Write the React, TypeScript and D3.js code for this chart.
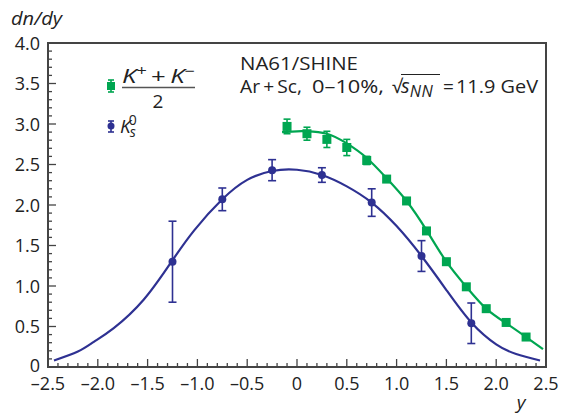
import React from "react";
import * as d3 from "d3";

// K0s measured points
const k0X = [-1.25, -0.75, -0.25, 0.25, 0.75, 1.25, 1.75];
const k0Y = [1.30, 2.07, 2.43, 2.37, 2.03, 1.37, 0.54];
const k0Err = [0.50, 0.14, 0.13, 0.09, 0.17, 0.19, 0.25];

// (K+ + K-)/2 measured points
const kcX = [-0.1, 0.1, 0.3, 0.5, 0.7, 0.9, 1.1, 1.3, 1.5, 1.7, 1.9, 2.1, 2.3];
const kcY = [2.97, 2.88, 2.81, 2.71, 2.55, 2.32, 2.05, 1.68, 1.30, 0.99, 0.72, 0.55, 0.37];
const kcErr = [0.09, 0.08, 0.10, 0.10, 0.05, 0.03, 0.03, 0.02, 0.02, 0.02, 0.02, 0.02, 0.02];

// fit curves
const k0FitX = [-2.44, -2.2, -2.04, -1.84, -1.54, -1.26, -1.03, -0.75, -0.5, -0.25, 0.0, 0.25, 0.5, 0.75, 1.0, 1.25, 1.5, 1.75, 2.0, 2.2, 2.44];
const k0FitY = [0.08, 0.19, 0.31, 0.48, 0.83, 1.30, 1.69, 2.07, 2.31, 2.42, 2.435, 2.37, 2.23, 2.03, 1.74, 1.37, 0.95, 0.55, 0.28, 0.16, 0.08];
const kcFitX = [-0.15, 0.0, 0.1, 0.3, 0.5, 0.7, 0.9, 1.1, 1.3, 1.5, 1.7, 1.9, 2.1, 2.3, 2.47];
const kcFitY = [2.90, 2.91, 2.91, 2.88, 2.76, 2.58, 2.33, 2.05, 1.69, 1.30, 0.99, 0.72, 0.54, 0.37, 0.22];

const xTicks = [-2.5, -2.0, -1.5, -1.0, -0.5, 0, 0.5, 1.0, 1.5, 2.0, 2.5];
const yTicks = [0, 0.5, 1.0, 1.5, 2.0, 2.5, 3.0, 3.5, 4.0];

const BLUE = "#2e3192";
const GREEN = "#00a651";
const AXIS = "#444";
const TXT = "#222";
const FONT = "'Open Sans', 'Noto Sans', sans-serif";

const fmtX = (v: number) => (v === 0 ? "0" : (v < 0 ? "–" : "") + Math.abs(v).toFixed(1));
const fmtY = (v: number) => (v === 0 ? "0" : v.toFixed(1));

export default function App() {
  const L = 48, R = 546, T = 43, B = 367;
  const x = d3.scaleLinear().domain([-2.5, 2.5]).range([L, R]);
  const y = d3.scaleLinear().domain([0, 4]).range([B, T]);

  const line = d3
    .line<[number, number]>()
    .x((d) => x(d[0]))
    .y((d) => y(d[1]))
    .curve(d3.curveNatural);

  const k0Fit = line(k0FitX.map((v, i) => [v, k0FitY[i]] as [number, number])) || "";
  const kcFit = line(kcFitX.map((v, i) => [v, kcFitY[i]] as [number, number])) || "";

  const minorX = d3.range(-25, 26).map((i) => i / 10);
  const minorY = d3.range(0, 41).map((i) => i / 10);

  return (
    <svg width={563} height={418} style={{ position: "absolute", left: 0, top: 0, background: "#fff" }} fontFamily={FONT}>
      <rect x={0} y={0} width={563} height={418} fill="#fff" />
      {/* frame */}
      <rect x={L} y={T} width={R - L} height={B - T} fill="none" stroke={AXIS} strokeWidth={2} />
      {/* ticks */}
      {minorX.map((v, i) => {
        const major = Math.abs(Math.round(v * 10) % 5) === 0;
        return <line key={"mx" + i} x1={x(v)} x2={x(v)} y1={B} y2={B - (major ? 8 : 4)} stroke={AXIS} strokeWidth={1.3} />;
      })}
      {minorY.map((v, i) => {
        const major = Math.round(v * 10) % 5 === 0;
        return <line key={"my" + i} x1={L} x2={L + (major ? 8 : 4)} y1={y(v)} y2={y(v)} stroke={AXIS} strokeWidth={1.3} />;
      })}
      {xTicks.map((v) => (
        <text key={"xt" + v} x={x(v)} y={390} textAnchor="middle" fontSize={18} fill={TXT}>
          {fmtX(v)}
        </text>
      ))}
      {yTicks.map((v) => (
        <text key={"yt" + v} x={40} y={y(v) + (v === 0 ? 5 : 6.5)} textAnchor="end" fontSize={18} fill={TXT}>
          {fmtY(v)}
        </text>
      ))}
      <text x={521} y={409} fontSize={19} fontStyle="italic" textAnchor="middle" fill={TXT}>y</text>
      <text x={11} y={25} fontSize={19} fontStyle="italic" fill={TXT} textLength={51} lengthAdjust="spacingAndGlyphs">dn/dy</text>

      {/* fits */}
      <path d={k0Fit} fill="none" stroke={BLUE} strokeWidth={2.2} />
      <path d={kcFit} fill="none" stroke={GREEN} strokeWidth={2.2} />

      {/* K0s points */}
      {k0X.map((v, i) => (
        <g key={"k0" + i} stroke={BLUE} strokeWidth={1.6}>
          <line x1={x(v)} x2={x(v)} y1={y(k0Y[i] - k0Err[i])} y2={y(k0Y[i] + k0Err[i])} />
          <line x1={x(v) - 4} x2={x(v) + 4} y1={y(k0Y[i] - k0Err[i])} y2={y(k0Y[i] - k0Err[i])} />
          <line x1={x(v) - 4} x2={x(v) + 4} y1={y(k0Y[i] + k0Err[i])} y2={y(k0Y[i] + k0Err[i])} />
          <circle cx={x(v)} cy={y(k0Y[i])} r={4} fill={BLUE} stroke="none" />
        </g>
      ))}
      {/* charged kaon points */}
      {kcX.map((v, i) => (
        <g key={"kc" + i} stroke={GREEN} strokeWidth={1.6}>
          <line x1={x(v)} x2={x(v)} y1={y(kcY[i] - kcErr[i])} y2={y(kcY[i] + kcErr[i])} />
          <line x1={x(v) - 3.5} x2={x(v) + 3.5} y1={y(kcY[i] - kcErr[i])} y2={y(kcY[i] - kcErr[i])} />
          <line x1={x(v) - 3.5} x2={x(v) + 3.5} y1={y(kcY[i] + kcErr[i])} y2={y(kcY[i] + kcErr[i])} />
          <rect x={x(v) - 4.5} y={y(kcY[i]) - 4.5} width={9} height={9} fill={GREEN} stroke="none" />
        </g>
      ))}

      {/* legend */}
      <g stroke={GREEN} strokeWidth={1.6}>
        <line x1={111} x2={111} y1={80} y2={92} />
        <line x1={108} x2={114} y1={80} y2={80} />
        <line x1={108} x2={114} y1={92} y2={92} />
        <rect x={107} y={82} width={8} height={8} fill={GREEN} stroke="none" />
      </g>
      <text x={122} y={83} fontSize={20} fill={TXT} textLength={73} lengthAdjust="spacingAndGlyphs">
        <tspan fontStyle="italic">K</tspan>
        <tspan fontSize={14} dy={-7}>+</tspan>
        <tspan dy={7}>{"\u2009+\u2009"}</tspan>
        <tspan fontStyle="italic">K</tspan>
        <tspan fontSize={14} dy={-7}>−</tspan>
      </text>
      <line x1={122} x2={195} y1={87.5} y2={87.5} stroke="#555" strokeWidth={1.4} />
      <text x={158} y={108} fontSize={19} textAnchor="middle" fill={TXT}>2</text>

      <g stroke={BLUE} strokeWidth={1.6}>
        <line x1={111} x2={111} y1={121} y2={132} />
        <line x1={108} x2={114} y1={121} y2={121} />
        <line x1={108} x2={114} y1={132} y2={132} />
        <circle cx={111} cy={126} r={3.5} fill={BLUE} stroke="none" />
      </g>
      <text x={120} y={133} fontSize={19} fill={TXT}>
        <tspan fontStyle="italic">K</tspan>
        <tspan fontSize={14} fontStyle="italic" dx={-1} dy={4}>s</tspan>
        <tspan fontSize={14} dx={-7} dy={-12}>0</tspan>
      </text>

      {/* header */}
      <text x={240} y={70} fontSize={19} fill={TXT} textLength={118} lengthAdjust="spacingAndGlyphs">NA61/SHINE</text>
      <text x={240} y={93} fontSize={19} fill={TXT} textLength={62} lengthAdjust="spacingAndGlyphs">{"Ar\u2009+\u2009Sc,"}</text>
      <text x={312} y={93} fontSize={19} fill={TXT} textLength={72} lengthAdjust="spacingAndGlyphs">0–10%,</text>
      <text x={392} y={93} fontSize={19} fill={TXT}>√</text>
      <line x1={401} x2={440} y1={74.5} y2={74.5} stroke={TXT} strokeWidth={1.1} />
      <text x={401} y={93} fontSize={20} fontStyle="italic" fill={TXT}>
        s<tspan fontSize={16} dy={4} letterSpacing={0.5}>NN</tspan>
      </text>
      <text x={443} y={93} fontSize={19} fill={TXT}>=</text>
      <text x={538} y={93} fontSize={19} textAnchor="end" fill={TXT} textLength={82} lengthAdjust="spacingAndGlyphs">11.9 GeV</text>
    </svg>
  );
}
